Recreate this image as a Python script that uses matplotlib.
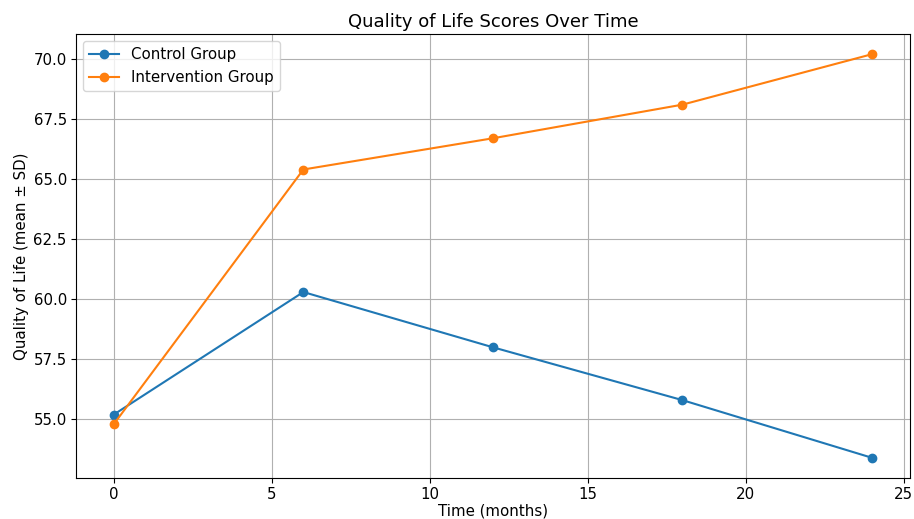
import matplotlib
matplotlib.use("Agg")
import matplotlib.pyplot as plt

months = [0, 6, 12, 18, 24]
control = [55.2, 60.3, 58.0, 55.8, 53.4]
intervention = [54.8, 65.4, 66.7, 68.1, 70.2]

plt.rcParams['font.size'] = 10.8

fig = plt.figure(figsize=(9.14, 5.19), dpi=100)
ax = fig.add_axes([0.083, 0.079, 0.9126, 0.8555])
ax.plot(months, control, marker='o', label='Control Group')
ax.plot(months, intervention, marker='o', label='Intervention Group')
ax.set_title('Quality of Life Scores Over Time', pad=5)
ax.set_xlabel('Time (months)', labelpad=1)
ax.set_ylabel('Quality of Life (mean ± SD)', labelpad=3)
ax.tick_params(labelsize=10.8, pad=3)
ax.grid(True)
ax.legend(loc='upper left', fontsize=10.8)
fig.savefig('out.png', dpi=100)
